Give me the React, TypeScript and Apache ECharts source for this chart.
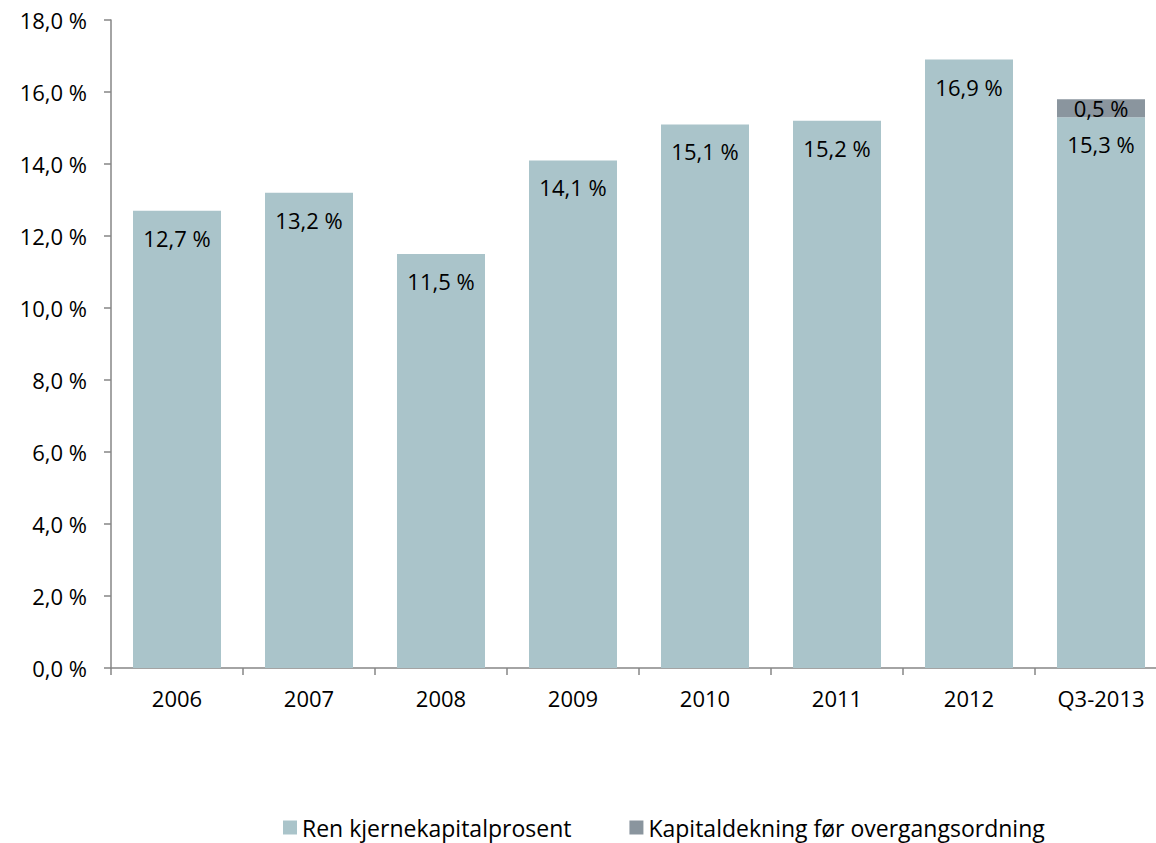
import React, { useEffect, useRef } from "react";
import * as echarts from "echarts";

const categories = ["2006", "2007", "2008", "2009", "2010", "2011", "2012", "Q3-2013"];
const renKjerne = [12.7, 13.2, 11.5, 14.1, 15.1, 15.2, 16.9, 15.3];
const kapitalFor = [null, null, null, null, null, null, null, 0.5];
const seriesNames = ["Ren kjernekapitalprosent", "Kapitaldekning før overgangsordning"];

const FONT = "Open Sans";
const FS = 22;
const fmt = (v: number) => v.toFixed(1).replace(".", ",") + " %";

export default function App() {
  const ref = useRef<HTMLDivElement>(null);
  useEffect(() => {
    const chart = echarts.init(ref.current!, null, { renderer: "svg" });
    chart.setOption({
      animation: false,
      textStyle: { fontFamily: FONT },
      grid: { left: 111, right: 0, top: 20, bottom: 175, containLabel: false },
      legend: {
        left: 278,
        top: 811,
        itemWidth: 14,
        itemHeight: 14,
        itemGap: 58,
        icon: "rect",
        textStyle: { fontFamily: FONT, fontSize: 23, color: "#000" },
        data: seriesNames,
      },
      xAxis: {
        type: "category",
        data: categories,
        axisLine: { lineStyle: { color: "#868686", width: 1.5 } },
        axisTick: { show: true, length: 7, alignWithLabel: false, lineStyle: { color: "#868686", width: 1.5 } },
        axisLabel: { fontFamily: FONT, fontSize: FS, color: "#000", margin: 19 },
      },
      yAxis: {
        type: "value",
        min: 0,
        max: 18,
        interval: 2,
        axisLine: { show: true, lineStyle: { color: "#868686", width: 1.5 } },
        axisTick: { show: true, length: 7, lineStyle: { color: "#868686", width: 1.5 } },
        splitLine: { show: false },
        axisLabel: {
          fontFamily: FONT,
          fontSize: FS,
          color: "#000",
          margin: 24,
          formatter: (v: number) => fmt(v),
        },
      },
      series: [
        {
          name: seriesNames[0],
          type: "bar",
          stack: "a",
          barWidth: 88,
          data: renKjerne,
          itemStyle: { color: "#AAC4CA" },
          label: {
            show: true,
            position: "insideTop",
            distance: 16,
            fontFamily: FONT,
            fontSize: FS,
            color: "#000",
            formatter: (p: any) => fmt(p.value),
          },
        },
        {
          name: seriesNames[1],
          type: "bar",
          stack: "a",
          barWidth: 88,
          data: kapitalFor,
          itemStyle: { color: "#8A959E" },
          label: {
            show: true,
            position: "inside",
            fontFamily: FONT,
            fontSize: FS,
            color: "#000",
            formatter: (p: any) => (p.value == null ? "" : fmt(p.value)),
          },
        },
      ],
    });
    return () => chart.dispose();
  }, []);
  return (
    <div
      style={{
        position: "absolute",
        left: 0,
        top: 0,
        width: 1156,
        height: 843,
        overflow: "hidden",
        background: "#fff",
      }}
    >
      <div ref={ref} style={{ width: 1167, height: 843 }} />
    </div>
  );
}
